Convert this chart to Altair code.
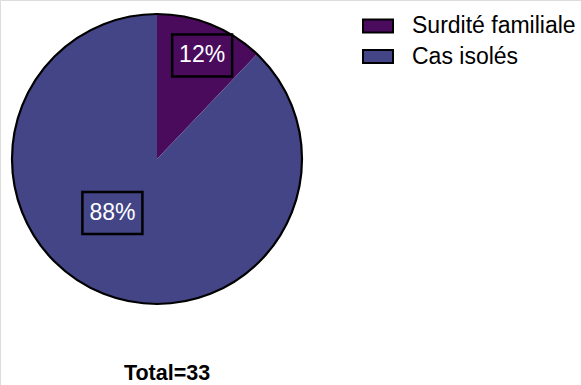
import altair as alt
import pandas as pd

# Hearing-loss cases by family history
categories = ["Surdité familiale", "Cas isolés"]
counts = [4, 29]
colors = ["#4a0b5d", "#434587"]

df = pd.DataFrame({"category": categories, "count": counts, "order": list(range(len(categories)))})

CX, CY, R = 157, 159, 145
FONT = "Liberation Sans"

base = alt.Chart(df)

color = alt.Color(
    "category:N",
    scale=alt.Scale(domain=categories, range=colors),
    sort=categories,
    legend=alt.Legend(
        title=None,
        orient="none",
        legendX=362,
        legendY=10,
        symbolType="M-1,-0.43H1V0.43H-1Z",
        symbolSize=900,
        symbolStrokeColor="black",
        symbolStrokeWidth=2,
        symbolOpacity=1,
        labelFont=FONT,
        labelFontSize=23,
        labelColor="black",
        labelOffset=18,
        labelLimit=400,
        rowPadding=2.5,
        padding=0,
    ),
)

pie = base.mark_arc(radius=R, strokeWidth=0).encode(
    theta=alt.Theta("count:Q", stack=True),
    order=alt.Order("order:Q"),
    color=color,
    x=alt.value(CX),
    y=alt.value(CY),
)

# black rim around the whole pie
outline = base.transform_aggregate(total="sum(count)").mark_point(
    shape="circle", size=(2 * R) ** 2, filled=False, stroke="black", strokeWidth=2.2, opacity=1
).encode(
    x=alt.value(CX),
    y=alt.value(CY),
)

# label placement per slice: distance from centre and angular nudge (radians)
placement = {
    "Surdité familiale": (113, 0.03),
    "Cas isolés": (70, 0.31),
}

label_layers = []
for cat, (lr, off) in placement.items():
    lab = (
        base.transform_window(cum="sum(count)", sort=[alt.SortField("order")], frame=[None, 0])
        .transform_joinaggregate(total="sum(count)")
        .transform_calculate(mid="2*PI*(datum.cum - datum.count/2)/datum.total")
        .transform_filter(alt.datum.category == cat)
        .transform_calculate(
            lx=f"{CX} + {lr}*sin(datum.mid + {off})",
            ly=f"{CY} - {lr}*cos(datum.mid + {off})",
            pct="format(datum.count/datum.total, '.0%')",
        )
        .transform_calculate(x1="datum.lx - 30", x2="datum.lx + 30", y1="datum.ly - 21", y2="datum.ly + 21")
    )
    box = lab.mark_rect(fillOpacity=0, stroke="black", strokeWidth=2.5).encode(
        x=alt.X("x1:Q", scale=None),
        x2="x2:Q",
        y=alt.Y("y1:Q", scale=None),
        y2="y2:Q",
    )
    txt = lab.mark_text(font=FONT, fontSize=23, color="white", align="center", baseline="middle").encode(
        x=alt.X("lx:Q", scale=None),
        y=alt.Y("ly:Q", scale=None),
        text="pct:N",
    )
    label_layers += [box, txt]

total = base.transform_aggregate(total="sum(count)").transform_calculate(
    t="'Total=' + datum.total"
).mark_text(font=FONT, fontSize=21.5, fontWeight="bold", color="black", align="center", baseline="alphabetic").encode(
    x=alt.value(167),
    y=alt.value(380),
    text="t:N",
)

chart = (
    alt.layer(pie, outline, *label_layers, total)
    .properties(width=581, height=385, autosize=alt.AutoSizeParams(type="none"), padding=0)
    .configure_view(stroke="transparent", strokeWidth=0)
    .configure(background="white")
)

chart.save("out.html", embed_options={"renderer": "svg", "actions": False})
